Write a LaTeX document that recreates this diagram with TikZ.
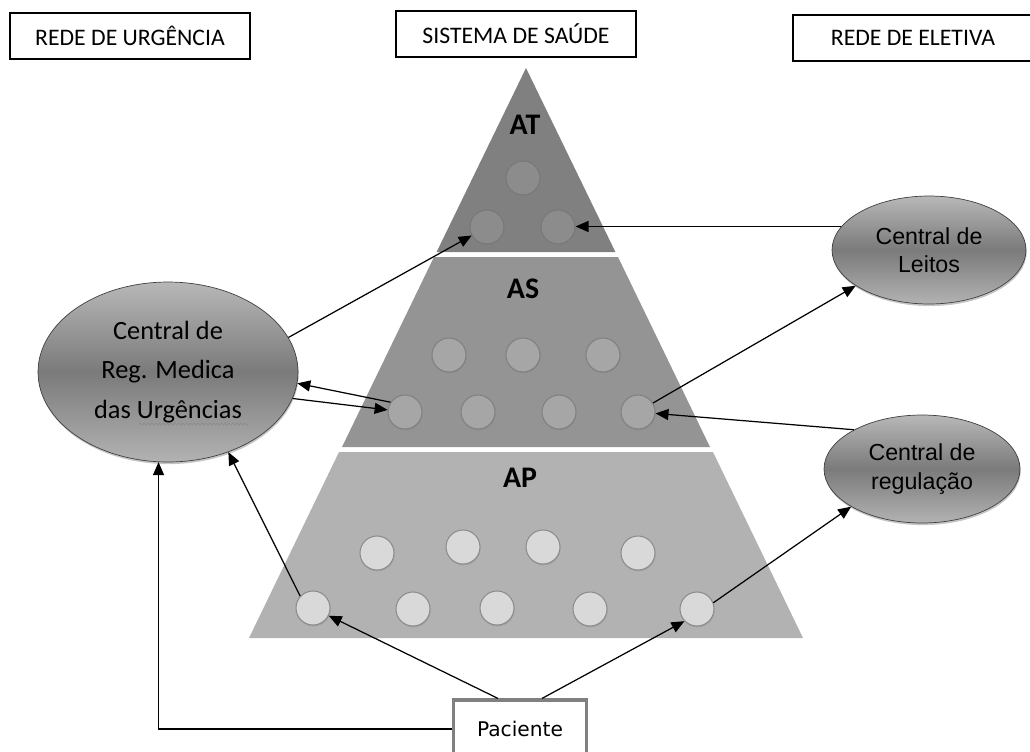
\documentclass[tikz,border=0pt]{standalone}
\usepackage{fontspec}
\setmainfont{Carlito}
\newfontfamily\arialfont{Liberation Sans}
\newfontfamily\verdanafont{DejaVu Sans}
\usepackage{tikz}
\usetikzlibrary{shapes.geometric,arrows.meta,shadows,decorations.pathmorphing}

\definecolor{atgray}{gray}{0.50}
\definecolor{asgray}{gray}{0.58}
\definecolor{apgray}{gray}{0.70}
\definecolor{ellipsetop}{gray}{0.72}
\definecolor{ellipsemid}{gray}{0.48}
\definecolor{ellipsebot}{gray}{0.70}

\tikzstyle{headbox} = [rectangle, draw=black, line width=0.8pt,
                       minimum width=4.8cm, minimum height=0.92cm,
                       text centered, font=\fontsize{13.5}{16}\selectfont]
\tikzstyle{arrow} = [line width=0.7pt, -{Triangle[length=2.6mm,width=2.2mm]}]
\tikzstyle{level} = [font=\fontsize{17}{20}\selectfont\bfseries]
\tikzstyle{central} = [
    ellipse,                   % Shape
    draw=black!75,             % Border color
    thin,
    top color=ellipsetop,      % Shading
    bottom color=ellipsebot,
    middle color=ellipsemid,
    drop shadow={shadow xshift=0.4pt, shadow yshift=-1.2pt, opacity=0.45},
    align=center,
    inner sep=0pt
]
\tikzstyle{dot} = [circle, minimum size=0.68cm, inner sep=0pt, line width=0.6pt,
                   drop shadow={shadow xshift=0.3pt, shadow yshift=-0.8pt, opacity=0.3}]
\tikzstyle{atdot} = [dot, fill=black!45, draw=black!53]
\tikzstyle{asdot} = [dot, fill=black!35, draw=black!50]
\tikzstyle{apdot} = [dot, fill=black!15, draw=black!45]

\begin{document}
\begin{tikzpicture}[x=0.02cm, y=-0.02cm]
		\useasboundingbox (0,0) rectangle (1030,751);

		% Header boxes
		\node[headbox] (urgnet) at (130,36) {REDE DE URGÊNCIA};
		\node[headbox] (sys) at (516,34) {SISTEMA DE SAÚDE};
		\node[headbox] (elenet) at (913,38) {REDE DE ELETIVA};

		% Pyramid levels
		\fill[atgray] (526,68) -- (615.4,252) -- (436.6,252) -- cycle;
		\fill[asgray] (434,257) -- (618,257) -- (710,447) -- (342,447) -- cycle;
		\fill[apgray] (339,452) -- (713,452) -- (803,638) -- (249,638) -- cycle;

		\node[level] (at) at (525,125) {AT};
		\node[level] (as) at (523,289) {AS};
		\node[level] (ap) at (520,478) {AP};

		% AT units
		\node[atdot] (at1) at (523,178) {};
		\node[atdot] (at2) at (487,227) {};
		\node[atdot] (at3) at (558,227) {};

		% AS units
		\node[asdot] (as1) at (449,355) {};
		\node[asdot] (as2) at (523,355) {};
		\node[asdot] (as3) at (603,355) {};
		\node[asdot] (as4) at (405,412) {};
		\node[asdot] (as5) at (478,412) {};
		\node[asdot] (as6) at (559,412) {};
		\node[asdot] (as7) at (638,412) {};

		% AP units
		\node[apdot] (ap1) at (377,553) {};
		\node[apdot] (ap2) at (463,547) {};
		\node[apdot] (ap3) at (543,547) {};
		\node[apdot] (ap4) at (638,553) {};
		\node[apdot] (ap5) at (313,608) {};
		\node[apdot] (ap6) at (413,609) {};
		\node[apdot] (ap7) at (497,608) {};
		\node[apdot] (ap8) at (590,609) {};
		\node[apdot] (ap9) at (697,609) {};

		% Regulation centres
		\node[central, minimum width=5.2cm, minimum height=3.6cm,
		      font=\fontsize{15}{22.7}\selectfont] (urg) at (168,372)
		      {Central de\\Reg. Medica\\das Urgências};
		\draw[black!45, line width=0.4pt, decorate,
		      decoration={snake, amplitude=0.6pt, segment length=2.2pt}] (139,424) -- (248,424);
		\node[central, minimum width=3.88cm, minimum height=2.16cm,
		      font=\arialfont\fontsize{13.2}{16}\selectfont] (lei) at (929,250) {Central de\\Leitos};
		\node[central, minimum width=3.92cm, minimum height=2.16cm,
		      font=\arialfont\fontsize{13.2}{16}\selectfont] (reg) at (922,469) {Central de\\regulação};

		% Patient
		\node[draw=black!50, line width=1.8pt, minimum width=2.66cm, minimum height=1.16cm,
		      font=\verdanafont\fontsize{11.5}{14}\selectfont] (pac) at (520,729) {Paciente};

		% Arrows
		\draw[arrow] ([xshift=-0.44cm]pac.north) -- (ap5);
		\draw[arrow] ([xshift=0.44cm]pac.north) -- (ap9.-136);
		\draw[arrow] (pac.west) -| (urg.-96);
		\draw[arrow] (ap5.137) -- (urg.-53);
		\draw[arrow] (ap9.21) -- (reg.-152);
		\draw[arrow] (reg.150) -- (as7);
		\draw[arrow] (as7.31) -- (lei.-154);
		\draw[arrow] (lei.165) -- (lei.165 -| at3.east);
		\draw[arrow] (urg.16) -- (at2);
		\draw[arrow] (as4.146) -- (urg.-5);
		\draw[arrow] (urg.-12) -- (as4);
	\end{tikzpicture}
\end{document}
